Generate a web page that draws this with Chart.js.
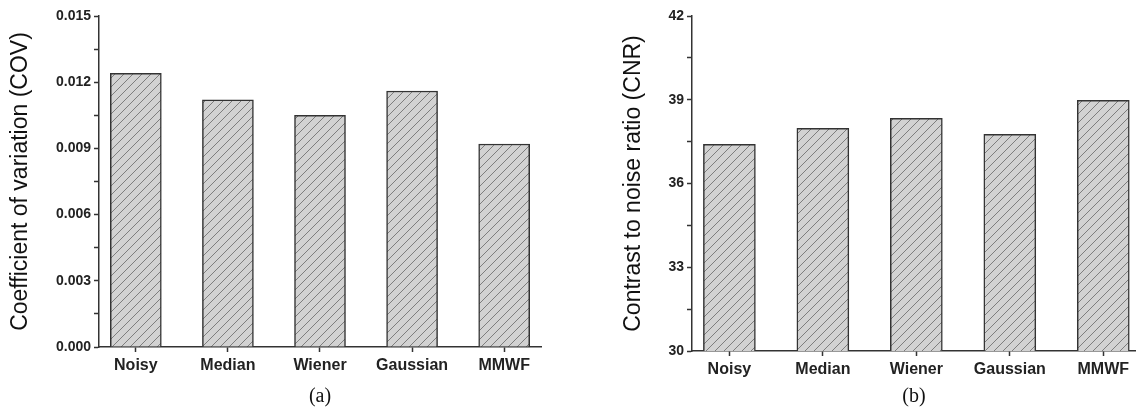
<!DOCTYPE html>
<html>
<head>
<meta charset="utf-8">
<script src="https://cdn.jsdelivr.net/npm/chart.js@4.4.0/dist/chart.umd.min.js"></script>
<style>
  body { margin: 0; background: #fff; width: 1136px; height: 410px; overflow: hidden; position: relative; }
  .panel { position: absolute; top: 0; height: 410px; }
  #panel-a { left: 0; width: 560px; }
  #panel-b { left: 580px; width: 556px; }
</style>
</head>
<body>
<div class="panel" id="panel-a"><canvas id="cov-chart"></canvas></div>
<div class="panel" id="panel-b"><canvas id="cnr-chart"></canvas></div>
<script>
// Filters compared in both panels
const filters = ['Noisy', 'Median', 'Wiener', 'Gaussian', 'MMWF'];

// (a) coefficient of variation
const covValues = [0.0124, 0.0112, 0.0105, 0.0116, 0.0092];
const covTicks = [0, 0.003, 0.006, 0.009, 0.012, 0.015];
const covTickLabels = ['0.000', '0.003', '0.006', '0.009', '0.012', '0.015'];

// (b) contrast to noise ratio
const cnrValues = [37.40, 37.98, 38.33, 37.76, 38.98];
const cnrTicks = [30, 33, 36, 39, 42];
const cnrTickLabels = ['30', '33', '36', '39', '42'];

const AXIS_COLOR = '#333';
const TEXT_COLOR = '#222';

/**
 * Builds the grey fill with thin "/" hatching used by the bars.
 */
function makeHatch() {
    const size = 9;
    const c = document.createElement('canvas');
    c.width = size;
    c.height = size;
    const g = c.getContext('2d');
    g.fillStyle = '#d2d2d2';
    g.fillRect(0, 0, size, size);
    g.strokeStyle = '#7d7d7d';
    g.lineWidth = 1;
    g.beginPath();
    g.moveTo(-1, size + 1);
    g.lineTo(size + 1, -1);
    g.moveTo(-2, 2);
    g.lineTo(2, -2);
    g.moveTo(size - 2, size + 2);
    g.lineTo(size + 2, size - 2);
    g.stroke();
    return g.createPattern(c, 'repeat');
}

/**
 * Major ticks plus a minor tick halfway between each pair.
 */
function withMinor(ticks) {
    const out = [];
    ticks.forEach((t, i) => {
        out.push({ value: t, major: true });
        if (i < ticks.length - 1) out.push({ value: (t + ticks[i + 1]) / 2, major: false });
    });
    return out;
}

/**
 * Creates one bar panel.
 */
function renderPanel(canvasId, cfg) {
    const ctx = document.getElementById(canvasId).getContext('2d');
    const tickSet = withMinor(cfg.ticks);

    return new Chart(ctx, {
        type: 'bar',
        data: {
            datasets: [{
                data: cfg.values.map((v, i) => ({ x: i + 1, y: v })),
                backgroundColor: makeHatch(),
                borderColor: AXIS_COLOR,
                borderWidth: 1.5,
                barThickness: cfg.barWidth,
            }]
        },
        options: {
            responsive: true,
            maintainAspectRatio: false,
            animation: false,
            layout: {
                padding: { left: 0, top: cfg.top, right: cfg.right, bottom: 1 }
            },
            plugins: {
                legend: { display: false },
                tooltip: { enabled: false }
            },
            scales: {
                x: {
                    type: 'linear',
                    offset: false,
                    min: 0.6,
                    max: cfg.xMax,
                    afterBuildTicks: scale => {
                        scale.ticks = filters.map((_, i) => ({ value: i + 1 }));
                    },
                    afterFit: scale => { scale.height = cfg.xHeight; },
                    ticks: {
                        callback: value => filters[value - 1],
                        color: TEXT_COLOR,
                        font: { family: 'Liberation Sans', size: 16, weight: 'bold' },
                        padding: 4,
                        maxRotation: 0,
                        autoSkip: false
                    },
                    grid: {
                        offset: false,
                        drawOnChartArea: false,
                        tickLength: 5,
                        tickColor: AXIS_COLOR,
                        tickWidth: 1.5
                    },
                    border: { display: true, color: AXIS_COLOR, width: 1.5 },
                    title: {
                        display: true,
                        text: cfg.caption,
                        color: '#111',
                        font: { family: 'Liberation Serif', size: 20 },
                        padding: 0
                    }
                },
                y: {
                    min: cfg.ticks[0],
                    max: cfg.ticks[cfg.ticks.length - 1],
                    afterBuildTicks: scale => {
                        scale.ticks = tickSet.map(t => ({ value: t.value, major: t.major }));
                    },
                    afterFit: scale => { scale.width = cfg.yWidth; },
                    ticks: {
                        callback: value => {
                            const i = cfg.ticks.indexOf(value);
                            return i >= 0 ? cfg.tickLabels[i] : '';
                        },
                        color: TEXT_COLOR,
                        font: { family: 'Liberation Sans', size: 14, weight: 'bold' },
                        padding: 3,
                        autoSkip: false
                    },
                    grid: {
                        drawOnChartArea: false,
                        tickLength: 5,
                        tickColor: AXIS_COLOR,
                        tickWidth: 1.5
                    },
                    border: { display: true, color: AXIS_COLOR, width: 1.5 },
                    title: {
                        display: true,
                        text: cfg.yTitle,
                        color: '#111',
                        font: { family: 'Liberation Sans', size: 23 },
                        padding: { top: cfg.titlePad, bottom: 0 }
                    }
                }
            }
        }
    });
}

renderPanel('cov-chart', {
    values: covValues,
    ticks: covTicks,
    tickLabels: covTickLabels,
    yTitle: 'Coefficient of variation (COV)',
    caption: '(a)',
    yWidth: 99,
    top: 16,
    right: 19,
    xHeight: 62,
    xMax: 5.4,
    barWidth: 51,
    titlePad: 7
});

renderPanel('cnr-chart', {
    values: cnrValues,
    ticks: cnrTicks,
    tickLabels: cnrTickLabels,
    yTitle: 'Contrast to noise ratio (CNR)',
    caption: '(b)',
    yWidth: 112,
    top: 16,
    right: 0,
    xHeight: 58,
    xMax: 5.35,
    barWidth: 52,
    titlePad: 40
});
</script>
</body>
</html>
